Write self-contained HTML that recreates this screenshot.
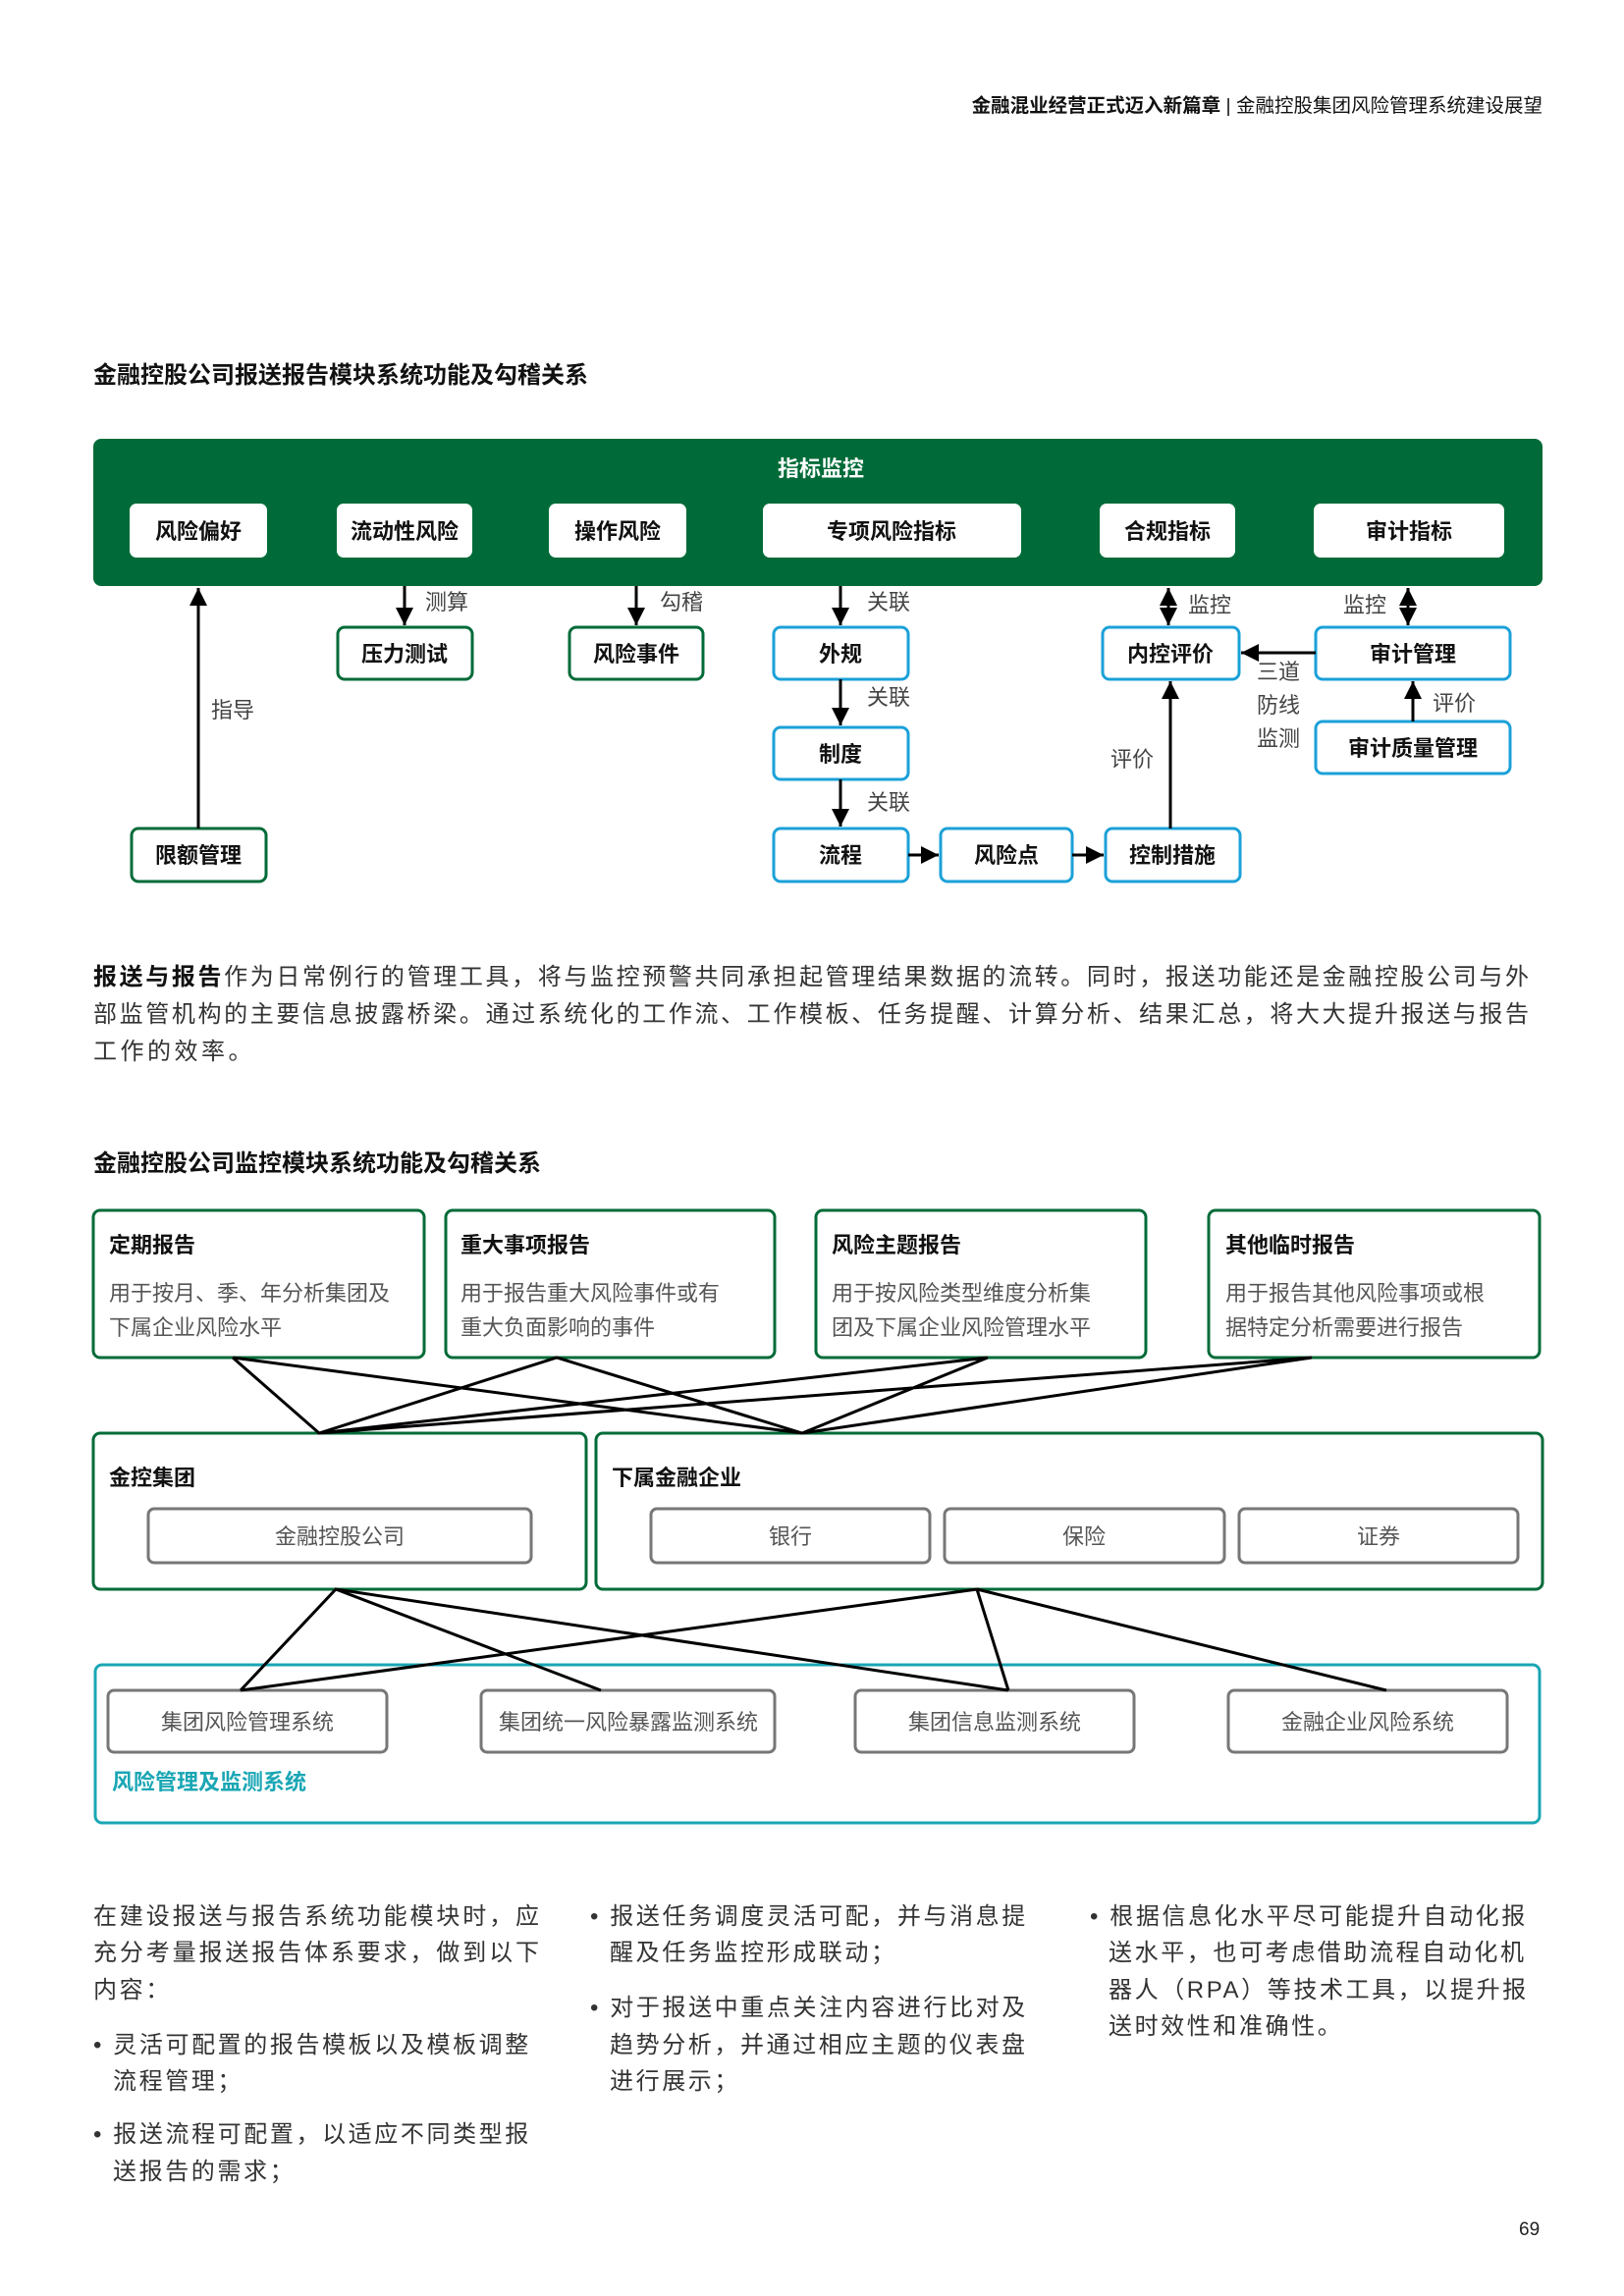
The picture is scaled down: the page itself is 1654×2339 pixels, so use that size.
<!DOCTYPE html>
<html><head><meta charset="utf-8">
<style>
html,body{margin:0;padding:0;background:#fff;}
body{width:1654px;height:2339px;position:relative;overflow:hidden;font-family:"Liberation Sans","Noto Sans CJK SC",sans-serif;color:#222;}
.abs{position:absolute;white-space:nowrap;}
.j{position:absolute;text-align:justify;text-align-last:justify;white-space:nowrap;font-size:24px;color:#333;}
.l{position:absolute;white-space:nowrap;font-size:24px;color:#333;letter-spacing:2.6px;}
svg text{font-family:"Liberation Sans","Noto Sans CJK SC",sans-serif;}
</style></head><body>
<div class="abs" style="right:83px;top:91px;font-size:19.5px;color:#111;"><b>金融混业经营正式迈入新篇章</b> | 金融控股集团风险管理系统建设展望</div>
<div class="abs" style="left:95px;top:362px;font-size:24px;font-weight:bold;color:#111;">金融控股公司报送报告模块系统功能及勾稽关系</div>
<div class="abs" style="left:95px;top:1165px;font-size:24px;font-weight:bold;color:#111;">金融控股公司监控模块系统功能及勾稽关系</div>

<div class="j" style="left:95px;top:975px;width:1462px;"><b style="color:#111">报送与报告</b>作为日常例行的管理工具，将与监控预警共同承担起管理结果数据的流转。同时，报送功能还是金融控股公司与外</div>
<div class="j" style="left:95px;top:1013px;width:1462px;">部监管机构的主要信息披露桥梁。通过系统化的工作流、工作模板、任务提醒、计算分析、结果汇总，将大大提升报送与报告</div>
<div class="l" style="left:95px;top:1051px;letter-spacing:3.5px;">工作的效率。</div>

<svg width="1654" height="2339" style="position:absolute;left:0;top:0;" xmlns="http://www.w3.org/2000/svg">
<defs>
<marker id="a" markerUnits="userSpaceOnUse" markerWidth="20" markerHeight="20" refX="18" refY="10" orient="auto"><path d="M0,1 L18,10 L0,19 z" fill="#000"/></marker>
<marker id="b" markerUnits="userSpaceOnUse" markerWidth="20" markerHeight="20" refX="2" refY="10" orient="auto"><path d="M20,1 L2,10 L20,19 z" fill="#000"/></marker>
</defs>
<rect x="95" y="447" width="1476" height="150" rx="8" fill="#006B38"/>
<text x="836" y="485" font-size="22" font-weight="bold" fill="#fff" text-anchor="middle">指标监控</text>
<g fill="#fff">
<rect x="132" y="513" width="140" height="55" rx="7"/>
<rect x="343" y="513" width="138" height="55" rx="7"/>
<rect x="559" y="513" width="140" height="55" rx="7"/>
<rect x="777" y="513" width="263" height="55" rx="7"/>
<rect x="1120" y="513" width="138" height="55" rx="7"/>
<rect x="1338" y="513" width="194" height="55" rx="7"/>
</g>
<g font-size="22" font-weight="bold" fill="#111" text-anchor="middle">
<text x="202" y="549">风险偏好</text><text x="412" y="549">流动性风险</text><text x="629" y="549">操作风险</text>
<text x="908" y="549">专项风险指标</text><text x="1189" y="549">合规指标</text><text x="1435" y="549">审计指标</text>
</g>
<g fill="#fff" stroke-width="3">
<rect x="344" y="639" width="137" height="53" rx="7" stroke="#006B38"/>
<rect x="580" y="639" width="136" height="53" rx="7" stroke="#006B38"/>
<rect x="134" y="844" width="137" height="54" rx="7" stroke="#006B38"/>
<rect x="788" y="639" width="137" height="53" rx="7" stroke="#1BA1D8"/>
<rect x="788" y="741" width="137" height="53" rx="7" stroke="#1BA1D8"/>
<rect x="788" y="844" width="137" height="54" rx="7" stroke="#1BA1D8"/>
<rect x="958" y="844" width="134" height="54" rx="7" stroke="#1BA1D8"/>
<rect x="1126" y="844" width="137" height="54" rx="7" stroke="#1BA1D8"/>
<rect x="1123" y="639" width="139" height="53" rx="7" stroke="#1BA1D8"/>
<rect x="1340" y="639" width="198" height="53" rx="7" stroke="#1BA1D8"/>
<rect x="1340" y="735" width="198" height="53" rx="7" stroke="#1BA1D8"/>
</g>
<g font-size="22" font-weight="bold" fill="#111" text-anchor="middle">
<text x="412" y="674">压力测试</text><text x="648" y="674">风险事件</text><text x="202" y="879">限额管理</text>
<text x="856" y="674">外规</text><text x="856" y="776">制度</text><text x="856" y="879">流程</text>
<text x="1025" y="879">风险点</text><text x="1194" y="879">控制措施</text><text x="1192" y="674">内控评价</text>
<text x="1439" y="674">审计管理</text><text x="1439" y="770">审计质量管理</text>
</g>
<g stroke="#000" stroke-width="3" fill="none">
<line x1="202" y1="844" x2="202" y2="599" marker-end="url(#a)"/>
<line x1="412" y1="597" x2="412" y2="637" marker-end="url(#a)"/>
<line x1="648" y1="597" x2="648" y2="637" marker-end="url(#a)"/>
<line x1="856" y1="597" x2="856" y2="637" marker-end="url(#a)"/>
<line x1="856" y1="692" x2="856" y2="739" marker-end="url(#a)"/>
<line x1="856" y1="794" x2="856" y2="842" marker-end="url(#a)"/>
<line x1="925" y1="871" x2="956" y2="871" marker-end="url(#a)"/>
<line x1="1092" y1="871" x2="1124" y2="871" marker-end="url(#a)"/>
<line x1="1192" y1="844" x2="1192" y2="694" marker-end="url(#a)"/>
<line x1="1190" y1="599" x2="1190" y2="637" marker-start="url(#b)" marker-end="url(#a)"/>
<line x1="1434" y1="599" x2="1434" y2="637" marker-start="url(#b)" marker-end="url(#a)"/>
<line x1="1340" y1="665" x2="1264" y2="665" marker-end="url(#a)"/>
<line x1="1439" y1="735" x2="1439" y2="694" marker-end="url(#a)"/>
</g>
<g font-size="22" fill="#444">
<text x="215" y="731">指导</text><text x="433" y="621">测算</text><text x="672" y="621">勾稽</text>
<text x="883" y="621">关联</text><text x="883" y="718">关联</text><text x="883" y="825">关联</text>
<text x="1210" y="624">监控</text><text x="1368" y="624">监控</text><text x="1131" y="781">评价</text>
<text x="1459" y="724">评价</text>
<text x="1280" y="692">三道</text><text x="1280" y="726">防线</text><text x="1280" y="760">监测</text>
</g>

<g fill="#fff" stroke="#006B38" stroke-width="3">
<rect x="95" y="1233" width="337" height="150" rx="7"/>
<rect x="454" y="1233" width="335" height="150" rx="7"/>
<rect x="831" y="1233" width="336" height="150" rx="7"/>
<rect x="1231" y="1233" width="337" height="150" rx="7"/>
<rect x="95" y="1460" width="502" height="159" rx="7"/>
<rect x="607" y="1460" width="964" height="159" rx="7"/>
</g>
<rect x="97" y="1696" width="1471" height="161" rx="7" fill="#fff" stroke="#1AA6B4" stroke-width="3"/>
<g font-size="22" font-weight="bold" fill="#111">
<text x="111" y="1276">定期报告</text><text x="469" y="1276">重大事项报告</text><text x="847" y="1276">风险主题报告</text><text x="1248" y="1276">其他临时报告</text>
<text x="111" y="1513">金控集团</text><text x="623" y="1513">下属金融企业</text>
</g>
<g font-size="22" fill="#555">
<text x="111" y="1325">用于按月、季、年分析集团及</text><text x="111" y="1360">下属企业风险水平</text>
<text x="469" y="1325">用于报告重大风险事件或有</text><text x="469" y="1360">重大负面影响的事件</text>
<text x="847" y="1325">用于按风险类型维度分析集</text><text x="847" y="1360">团及下属企业风险管理水平</text>
<text x="1248" y="1325">用于报告其他风险事项或根</text><text x="1248" y="1360">据特定分析需要进行报告</text>
</g>
<g fill="#fff" stroke="#777" stroke-width="3">
<rect x="151" y="1537" width="390" height="55" rx="6"/>
<rect x="663" y="1537" width="284" height="55" rx="6"/>
<rect x="962" y="1537" width="285" height="55" rx="6"/>
<rect x="1262" y="1537" width="284" height="55" rx="6"/>
<rect x="110" y="1722" width="284" height="63" rx="6"/>
<rect x="490" y="1722" width="299" height="63" rx="6"/>
<rect x="871" y="1722" width="284" height="63" rx="6"/>
<rect x="1251" y="1722" width="284" height="63" rx="6"/>
</g>
<g font-size="22" fill="#555" text-anchor="middle">
<text x="346" y="1573">金融控股公司</text><text x="805" y="1573">银行</text><text x="1104" y="1573">保险</text><text x="1404" y="1573">证券</text>
<text x="252" y="1762">集团风险管理系统</text><text x="640" y="1762">集团统一风险暴露监测系统</text><text x="1013" y="1762">集团信息监测系统</text><text x="1393" y="1762">金融企业风险系统</text>
</g>
<text x="114" y="1823" font-size="22" font-weight="bold" fill="#1AA6B4">风险管理及监测系统</text>
<g stroke="#000" stroke-width="3" fill="none">
<polyline points="237,1383 325,1460 567,1383 817,1460 237,1383"/>
<polyline points="1006,1383 325,1460 1336,1383 817,1460 1006,1383"/>
<polyline points="245,1722 342,1619 612,1722"/>
<line x1="342" y1="1619" x2="1027" y2="1722"/>
<polyline points="245,1722 995,1619 1027,1722"/>
<line x1="995" y1="1619" x2="1412" y2="1722"/>
</g>
</svg>

<div class="j" style="left:95px;top:1932px;width:454px;">在建设报送与报告系统功能模块时，应</div>
<div class="j" style="left:95px;top:1969px;width:454px;">充分考量报送报告体系要求，做到以下</div>
<div class="l" style="left:95px;top:2007px;">内容：</div>
<div class="l" style="left:95px;top:2063px;">• 灵活可配置的报告模板以及模板调整</div>
<div class="l" style="left:115px;top:2100px;">流程管理；</div>
<div class="l" style="left:95px;top:2154px;">• 报送流程可配置，以适应不同类型报</div>
<div class="l" style="left:115px;top:2192px;">送报告的需求；</div>

<div class="l" style="left:601px;top:1932px;">• 报送任务调度灵活可配，并与消息提</div>
<div class="l" style="left:621px;top:1969px;">醒及任务监控形成联动；</div>
<div class="l" style="left:601px;top:2025px;">• 对于报送中重点关注内容进行比对及</div>
<div class="l" style="left:621px;top:2063px;">趋势分析，并通过相应主题的仪表盘</div>
<div class="l" style="left:621px;top:2100px;">进行展示；</div>

<div class="l" style="left:1110px;top:1932px;">• 根据信息化水平尽可能提升自动化报</div>
<div class="l" style="left:1129px;top:1969px;">送水平，也可考虑借助流程自动化机</div>
<div class="l" style="left:1129px;top:2007px;">器人（RPA）等技术工具，以提升报</div>
<div class="l" style="left:1129px;top:2044px;">送时效性和准确性。</div>

<div class="abs" style="left:1547px;top:2261px;font-size:19px;color:#222;">69</div>
</body></html>
